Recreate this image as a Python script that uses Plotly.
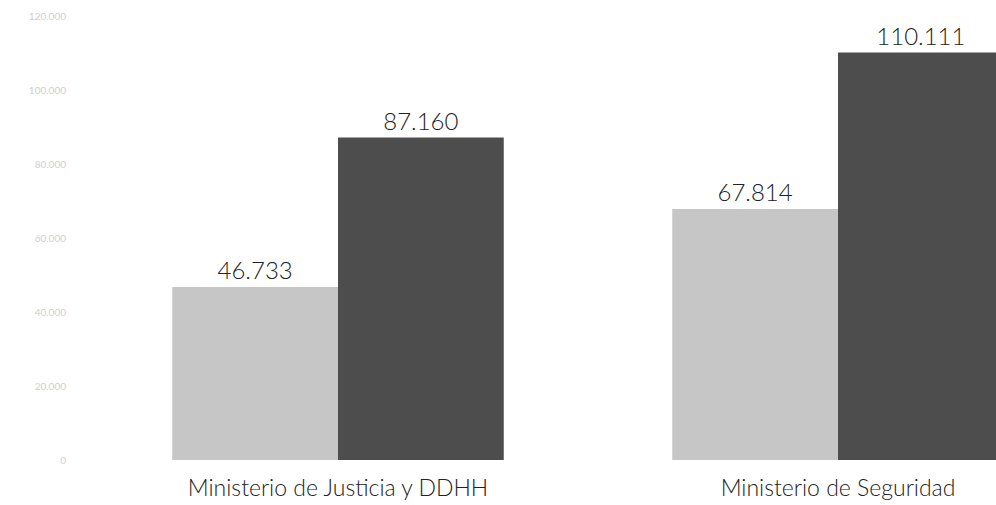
import plotly.graph_objects as go

categories = ["Ministerio de Justicia y DDHH", "Ministerio de Seguridad"]
serie_a = [46733, 67814]
serie_b = [87160, 110111]
tick_vals = [0, 20000, 40000, 60000, 80000, 100000, 120000]

font_fam = "Lato, 'Open Sans', sans-serif"

fig = go.Figure()
fig.add_trace(go.Bar(
    x=categories, y=serie_a, name="Serie A",
    marker=dict(color="#c6c6c6", line=dict(width=0)),
    texttemplate="%{y:,.0f}", textposition="outside",
    textfont=dict(size=24, color="#222222", family=font_fam, weight=300),
    cliponaxis=False,
))
fig.add_trace(go.Bar(
    x=categories, y=serie_b, name="Serie B",
    marker=dict(color="#4d4d4d", line=dict(width=0)),
    texttemplate="%{y:,.0f}", textposition="outside",
    textfont=dict(size=24, color="#222222", family=font_fam, weight=300),
    cliponaxis=False,
))

fig.update_layout(
    width=996, height=505,
    margin=dict(l=75, r=0, t=16, b=45),
    barmode="group", bargap=0.337, bargroupgap=0,
    separators=",.",
    showlegend=False,
    plot_bgcolor="white", paper_bgcolor="white",
    font=dict(family=font_fam, color="#222222"),
    uniformtext=dict(mode=False),
)
fig.update_xaxes(
    range=[-0.526, 1.316], showgrid=False, showline=False, zeroline=False,
    ticks="", tickfont=dict(size=23, color="#222222", family=font_fam, weight=300),
    ticklabelstandoff=12,
)
fig.update_yaxes(
    range=[0, 120000], tickvals=tick_vals, tickformat=",.0f",
    showgrid=False, showline=False, zeroline=False, ticks="",
    tickfont=dict(size=10, color="#cfcfcf", family=font_fam),
    ticklabelstandoff=8,
)

fig.write_html(
    "out.html",
    config={"displayModeBar": False},
    post_script="document.body.style.margin='0';document.body.style.overflow='hidden';",
)
